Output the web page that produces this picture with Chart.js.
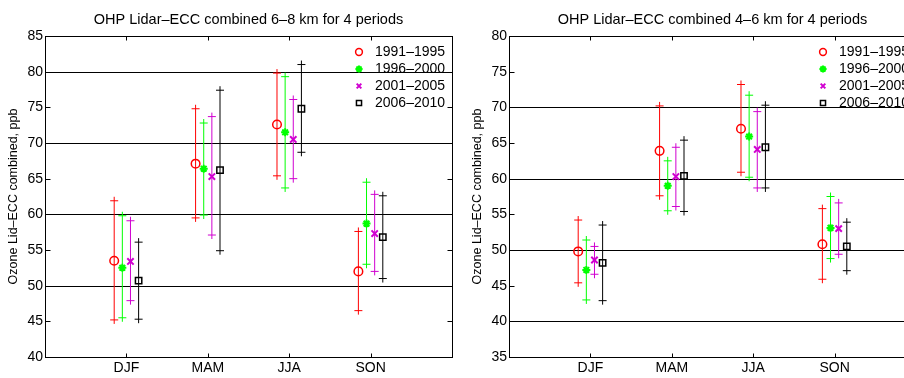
<!DOCTYPE html>
<html lang="en">
<head>
<meta charset="utf-8">
<title>OHP Lidar-ECC combined</title>
<script src="https://cdn.jsdelivr.net/npm/chart.js@4.4.1/dist/chart.umd.min.js"></script>
<style>
	html, body { margin: 0; padding: 0; background: #fff; overflow: hidden; width: 904px; height: 378px; }
	canvas { position: absolute; top: 0; }
	#graphique-68 { left: 0; }
	#graphique-46 { left: 464px; }
</style>
</head>
<body>
<canvas id="graphique-68" width="460" height="378"></canvas>
<canvas id="graphique-46" width="460" height="378"></canvas>
<script>
// Données
const saisons = ['DJF', 'MAM', 'JJA', 'SON'];
const periodes = ['1991–1995', '1996–2000', '2001–2005', '2006–2010'];

// 6-8 km : une ligne par période, une colonne par saison
const moyennes68 = [
	[53.5, 67.1, 72.6, 52.0],
	[52.5, 66.4, 71.5, 58.7],
	[53.4, 65.3, 70.5, 57.3],
	[50.7, 66.2, 74.8, 56.8],
];
const bas68 = [
	[45.2, 59.5, 65.4, 46.5],
	[45.5, 59.9, 63.7, 53.0],
	[47.9, 57.1, 65.0, 52.0],
	[45.3, 54.9, 68.7, 51.0],
];
const hauts68 = [
	[61.9, 74.8, 79.8, 57.6],
	[59.8, 72.8, 79.3, 64.5],
	[59.1, 73.7, 76.1, 62.8],
	[56.1, 77.4, 81.0, 62.6],
];

// 4-6 km
const moyennes46 = [
	[49.8, 63.9, 67.0, 50.8],
	[47.2, 59.0, 65.9, 53.1],
	[48.6, 60.3, 64.1, 53.0],
	[48.2, 60.4, 64.4, 50.5],
];
const bas46 = [
	[45.4, 57.6, 60.9, 45.9],
	[43.0, 55.5, 60.2, 48.8],
	[46.6, 56.1, 58.7, 49.4],
	[42.9, 55.4, 58.7, 47.1],
];
const hauts46 = [
	[54.2, 70.2, 73.2, 55.8],
	[51.4, 62.5, 71.7, 57.5],
	[50.5, 64.4, 69.4, 56.6],
	[53.5, 65.4, 70.3, 53.9],
];

// Styles des séries
const couleurs = ['#ff0000', '#00ff00', '#d000d0', '#000000'];
const formes = ['circle', 'star', 'crossRot', 'rect'];
const rayons = [4.3, 4, 4.5, 4.5];
const rayonsLegende = [3.4, 3.6, 3.3, 3.6];
const epaisseurs = [1.5, 2, 2, 1.5];
const decalages = [-0.15, -0.05, 0.05, 0.15];

Chart.defaults.font.family = '"Liberation Sans", Arial, Helvetica, sans-serif';
Chart.defaults.color = '#000';

// Marqueur simple (pour la légende)
function dessinerMarqueur(ctx, forme, x, y, r) {
	ctx.beginPath();
	if (forme === 'circle') {
		ctx.arc(x, y, r, 0, Math.PI * 2);
	} else if (forme === 'rect') {
		const c = r * Math.SQRT1_2;
		ctx.rect(x - c, y - c, 2 * c, 2 * c);
	} else {
		const d = r * Math.SQRT1_2;
		ctx.moveTo(x - d, y - d);
		ctx.lineTo(x + d, y + d);
		ctx.moveTo(x - d, y + d);
		ctx.lineTo(x + d, y - d);
		if (forme === 'star') {
			ctx.moveTo(x, y - r);
			ctx.lineTo(x, y + r);
			ctx.moveTo(x - r, y);
			ctx.lineTo(x + r, y);
		}
	}
	ctx.stroke();
}

/* Cadre, grille, barres d'erreur et légende */
const pluginCadre = {
	id: 'cadre',
	beforeDatasetsDraw(chart) {
		const { ctx, chartArea: zone, scales } = chart;
		const echelleY = scales.y;
		ctx.save();
		ctx.strokeStyle = '#000';
		ctx.lineWidth = 1;
		// lignes horizontales tous les 10
		for (let v = Math.ceil(echelleY.min / 10) * 10; v <= echelleY.max; v += 10) {
			if (v === echelleY.min || v === echelleY.max) continue;
			const y = Math.round(echelleY.getPixelForValue(v)) + 0.5;
			ctx.beginPath();
			ctx.moveTo(zone.left, y);
			ctx.lineTo(zone.right, y);
			ctx.stroke();
		}
		// barres d'erreur
		chart.data.datasets.forEach((ds) => {
			ctx.strokeStyle = ds.borderColor;
			ds.data.forEach((point) => {
				const x = scales.x.getPixelForValue(point.x);
				const yBas = echelleY.getPixelForValue(point.bas);
				const yHaut = echelleY.getPixelForValue(point.haut);
				ctx.beginPath();
				ctx.moveTo(x, yHaut - 4);
				ctx.lineTo(x, yBas + 4);
				ctx.moveTo(x - 4, yHaut);
				ctx.lineTo(x + 4, yHaut);
				ctx.moveTo(x - 4, yBas);
				ctx.lineTo(x + 4, yBas);
				ctx.stroke();
			});
		});
		ctx.restore();
	},
	afterDatasetsDraw(chart) {
		const { ctx, chartArea: zone, scales } = chart;
		ctx.save();
		ctx.strokeStyle = '#000';
		ctx.lineWidth = 1;
		const gauche = zone.left + 0.5;
		const droite = Math.round(zone.right) + 0.5;
		const haut = zone.top + 0.5;
		const bas = zone.bottom + 0.5;
		ctx.strokeRect(gauche, haut, droite - gauche, bas - haut);
		// graduations vers l'intérieur
		ctx.beginPath();
		for (let v = scales.y.min; v <= scales.y.max; v += 5) {
			const y = Math.round(scales.y.getPixelForValue(v)) + 0.5;
			ctx.moveTo(gauche, y);
			ctx.lineTo(gauche + 5, y);
			ctx.moveTo(droite, y);
			ctx.lineTo(droite - 5, y);
		}
		for (let i = 1; i <= saisons.length; i++) {
			const x = Math.round(scales.x.getPixelForValue(i)) + 0.5;
			ctx.moveTo(x, haut);
			ctx.lineTo(x, haut + 4);
			ctx.moveTo(x, bas);
			ctx.lineTo(x, bas - 4);
		}
		ctx.stroke();

		// légende
		ctx.font = '14px "Liberation Sans", Arial, sans-serif';
		ctx.textBaseline = 'middle';
		ctx.textAlign = 'left';
		chart.data.datasets.forEach((ds, i) => {
			const y = zone.top + 16 + i * 17;
			ctx.strokeStyle = ds.borderColor;
			ctx.lineWidth = epaisseurs[i];
			dessinerMarqueur(ctx, formes[i], zone.right - 93, y, rayonsLegende[i]);
			ctx.fillStyle = '#000';
			ctx.fillText(ds.label, zone.right - 77, y);
		});
		ctx.restore();
	},
};

function creerGraphique(canvasId, titre, yMin, yMax, moyennes, bas, hauts) {
	const datasets = periodes.map((periode, i) => ({
		label: periode,
		data: saisons.map((s, j) => ({
			x: j + 1 + decalages[i],
			y: moyennes[i][j],
			bas: bas[i][j],
			haut: hauts[i][j],
		})),
		showLine: false,
		borderColor: couleurs[i],
		pointStyle: formes[i],
		pointRadius: rayons[i],
		pointBorderWidth: epaisseurs[i],
		pointBorderColor: couleurs[i],
		pointBackgroundColor: 'rgba(0,0,0,0)',
	}));

	const config = {
		type: 'scatter',
		data: { datasets: datasets },
		options: {
			responsive: false,
			animation: false,
			devicePixelRatio: 1,
			layout: { padding: { left: 0, right: 8, top: 0, bottom: 0 } },
			plugins: {
				legend: { display: false },
				tooltip: { enabled: false },
				title: {
					display: true,
					text: titre,
					fullSize: false,
					color: '#000',
					font: { size: 14.5, weight: 'normal' },
					padding: { top: 11, bottom: 7.6 },
				},
			},
			scales: {
				x: {
					type: 'linear',
					min: 0,
					max: 5,
					grid: { display: false, drawTicks: false },
					border: { display: false },
					ticks: {
						stepSize: 1,
						autoSkip: false,
						maxRotation: 0,
						padding: 3,
						font: { size: 14 },
						callback: (valeur) => saisons[valeur - 1] ?? '',
					},
					afterFit: (echelle) => { echelle.height = 21; },
				},
				y: {
					min: yMin,
					max: yMax,
					grid: { display: false, drawTicks: false },
					border: { display: false },
					ticks: { stepSize: 5, padding: 2, font: { size: 14 } },
					title: {
						display: true,
						text: 'Ozone Lid–ECC combined, ppb',
						font: { size: 12.5 },
						padding: { top: 6.5, bottom: 0 },
					},
					afterFit: (echelle) => { echelle.width = 45; },
				},
			},
		},
		plugins: [pluginCadre],
	};
	return new Chart(document.getElementById(canvasId), config);
}

creerGraphique('graphique-68', 'OHP Lidar–ECC combined 6–8 km for 4 periods', 40, 85, moyennes68, bas68, hauts68);
creerGraphique('graphique-46', 'OHP Lidar–ECC combined 4–6 km for 4 periods', 35, 80, moyennes46, bas46, hauts46);
</script>
</body>
</html>
